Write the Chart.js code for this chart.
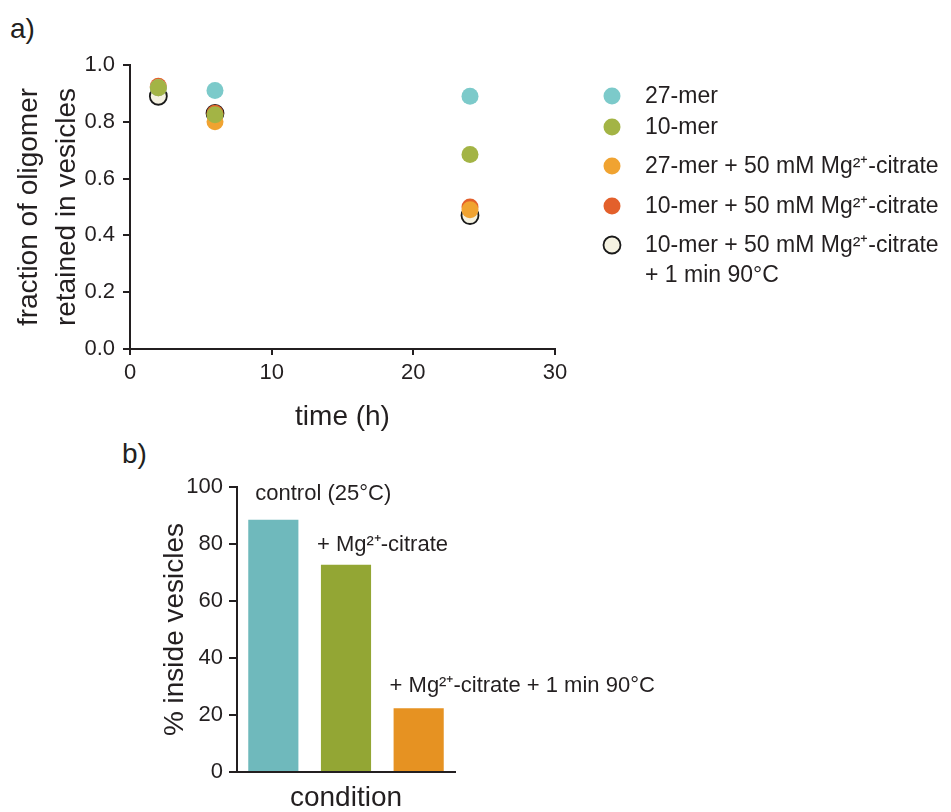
<!DOCTYPE html>
<html>
<head>
<meta charset="utf-8">
<script src="https://cdn.jsdelivr.net/npm/chart.js@4.4.1/dist/chart.umd.min.js"></script>
<style>
  body { margin: 0; background: #fff; }
  #wrap { position: relative; width: 951px; height: 812px; font-family: "Liberation Sans", Arial, sans-serif; color: #231f20; }
  .panel { position: absolute; font-size: 28px; line-height: 30px; }
  #retention { position: absolute; left: 0; top: 0; }
  #inside { position: absolute; left: 145px; top: 430px; }
</style>
</head>
<body>
<div id="wrap">
  <div class="panel" style="left:10px;top:14px">a)</div>
  <div class="panel" style="left:122px;top:439px">b)</div>
  <canvas id="retention" width="951" height="440"></canvas>
  <canvas id="inside" width="560" height="382"></canvas>
</div>
<script>
// panel a: fraction retained vs time
const times = [2, 6, 24];
const mer27 = [0.92, 0.91, 0.89];
const mer10 = [0.92, 0.825, 0.685];
const mer27Mg = [0.92, 0.80, 0.49];
const mer10Mg = [0.925, 0.83, 0.50];
const mer10MgHeat = [0.89, 0.83, 0.47];
const timeTicks = [0, 10, 20, 30];
const fractionTicks = [0, 0.2, 0.4, 0.6, 0.8, 1.0];

// panel b: % inside vesicles per condition
const conditions = ["control (25°C)", "+ Mg²⁺-citrate", "+ Mg²⁺-citrate + 1 min 90°C"];
const insideVesicles = [88.5, 72.7, 22.4];
const percentTicks = [0, 20, 40, 60, 80, 100];

const ink = "#231f20";
const family = "'Liberation Sans', Arial, sans-serif";
Chart.defaults.font.family = family;
Chart.defaults.color = ink;

const points = (ys) => times.map((t, i) => ({ x: t, y: ys[i] }));

// legend drawn beside the plot, rows spaced like the figure
const sideLegend = {
  id: "sideLegend",
  afterDraw(chart, args, opts) {
    const { ctx, chartArea } = chart;
    ctx.save();
    ctx.font = "23px " + family;
    ctx.textBaseline = "middle";
    ctx.textAlign = "left";
    chart.data.datasets.forEach((ds, i) => {
      const y = chartArea.top + opts.rows[i];
      ctx.beginPath();
      ctx.arc(chartArea.right + opts.markerX, y, ds.pointRadius, 0, Math.PI * 2);
      ctx.fillStyle = ds.backgroundColor;
      ctx.fill();
      if (ds.borderWidth) {
        ctx.lineWidth = ds.borderWidth;
        ctx.strokeStyle = ds.borderColor;
        ctx.stroke();
      }
      ctx.fillStyle = ink;
      ds.label.split("\n").forEach((line, j) => {
        ctx.fillText(line, chartArea.right + opts.textX, y + 1 + j * 30);
      });
    });
    ctx.restore();
  },
};

new Chart(document.getElementById("retention"), {
  type: "scatter",
  data: {
    datasets: [
      { label: "27-mer", data: points(mer27), backgroundColor: "#7ccaca", borderWidth: 0, pointRadius: 8.5, order: 1 },
      { label: "10-mer", data: points(mer10), backgroundColor: "#a3b445", borderWidth: 0, pointRadius: 8.5, order: 0 },
      { label: "27-mer + 50 mM Mg²⁺-citrate", data: points(mer27Mg), backgroundColor: "#f0a331", borderWidth: 0, pointRadius: 8.5, order: 2 },
      { label: "10-mer + 50 mM Mg²⁺-citrate", data: points(mer10Mg), backgroundColor: "#e3602b", borderWidth: 0, pointRadius: 8.5, order: 3 },
      {
        label: "10-mer + 50 mM Mg²⁺-citrate\n+ 1 min 90°C",
        data: points(mer10MgHeat),
        backgroundColor: "#f5f2e1",
        borderColor: "#1a1a1a",
        borderWidth: 1.8,
        pointRadius: 8.5,
        order: 4,
      },
    ],
  },
  options: {
    responsive: false,
    animation: false,
    devicePixelRatio: 1,
    layout: { padding: { top: 65, right: 396, bottom: 0, left: 0 } },
    plugins: {
      legend: { display: false },
      tooltip: { enabled: false },
      sideLegend: { markerX: 57, textX: 90, rows: [31, 62, 101, 141, 180] },
    },
    scales: {
      x: {
        type: "linear",
        min: 0,
        max: 30,
        afterBuildTicks: (s) => { s.ticks = timeTicks.map((v) => ({ value: v })); },
        afterFit: (s) => { s.height = 91; },
        grid: { drawOnChartArea: false, tickLength: 6, color: ink, lineWidth: 2 },
        border: { color: ink, width: 2 },
        ticks: { padding: 5, font: { size: 22 }, color: ink },
        title: { display: true, text: "time (h)", font: { size: 28 }, color: ink, padding: { top: 0, bottom: 6 } },
      },
      y: {
        min: 0,
        max: 1,
        afterBuildTicks: (s) => { s.ticks = fractionTicks.map((v) => ({ value: v })); },
        afterFit: (s) => { s.width = 130; },
        grid: { drawOnChartArea: false, tickLength: 7, color: ink, lineWidth: 2 },
        border: { color: ink, width: 2 },
        ticks: { padding: 8, font: { size: 22 }, color: ink, callback: (v) => Number(v).toFixed(1) },
        title: {
          display: true,
          text: ["fraction of oligomer", "retained in vesicles"],
          font: { size: 28, lineHeight: 1.36 },
          color: ink,
          padding: { top: 10, bottom: 0 },
        },
      },
    },
  },
  plugins: [sideLegend],
});

// condition names written above each bar
const barLabels = {
  id: "barLabels",
  afterDatasetsDraw(chart, args, opts) {
    const { ctx } = chart;
    const meta = chart.getDatasetMeta(0);
    ctx.save();
    ctx.font = "22px " + family;
    ctx.fillStyle = ink;
    ctx.textBaseline = "middle";
    ctx.textAlign = "left";
    meta.data.forEach((bar, i) => {
      const { x, y, width } = bar.getProps(["x", "y", "width"], true);
      ctx.fillText(chart.data.labels[i], x - width / 2 + opts.dx[i], y - opts.dy[i]);
    });
    ctx.restore();
  },
};

new Chart(document.getElementById("inside"), {
  type: "bar",
  data: {
    labels: conditions,
    datasets: [
      {
        label: "% inside vesicles",
        data: insideVesicles,
        backgroundColor: ["#6fb9bc", "#93a634", "#e69222"],
        categoryPercentage: 1,
        barPercentage: 0.69,
      },
    ],
  },
  options: {
    responsive: false,
    animation: false,
    devicePixelRatio: 1,
    layout: { padding: { top: 57, right: 250, bottom: 0, left: 0 } },
    plugins: {
      legend: { display: false },
      tooltip: { enabled: false },
      barLabels: { dx: [7, -4, -4], dy: [26, 20, 22] },
    },
    scales: {
      x: {
        afterFit: (s) => { s.height = 40; },
        grid: { display: false },
        border: { color: ink, width: 2 },
        ticks: { display: false },
        title: { display: true, text: "condition", font: { size: 28 }, color: ink, padding: { top: 0, bottom: -3 } },
      },
      y: {
        min: 0,
        max: 100,
        afterBuildTicks: (s) => { s.ticks = percentTicks.map((v) => ({ value: v })); },
        afterFit: (s) => { s.width = 92; },
        grid: { drawOnChartArea: false, tickLength: 8, color: ink, lineWidth: 2 },
        border: { color: ink, width: 2 },
        ticks: { padding: 6, font: { size: 22 }, color: ink },
        title: { display: true, text: "% inside vesicles", font: { size: 28 }, color: ink, padding: { top: 13, bottom: 0 } },
      },
    },
  },
  plugins: [barLabels],
});
</script>
</body>
</html>
